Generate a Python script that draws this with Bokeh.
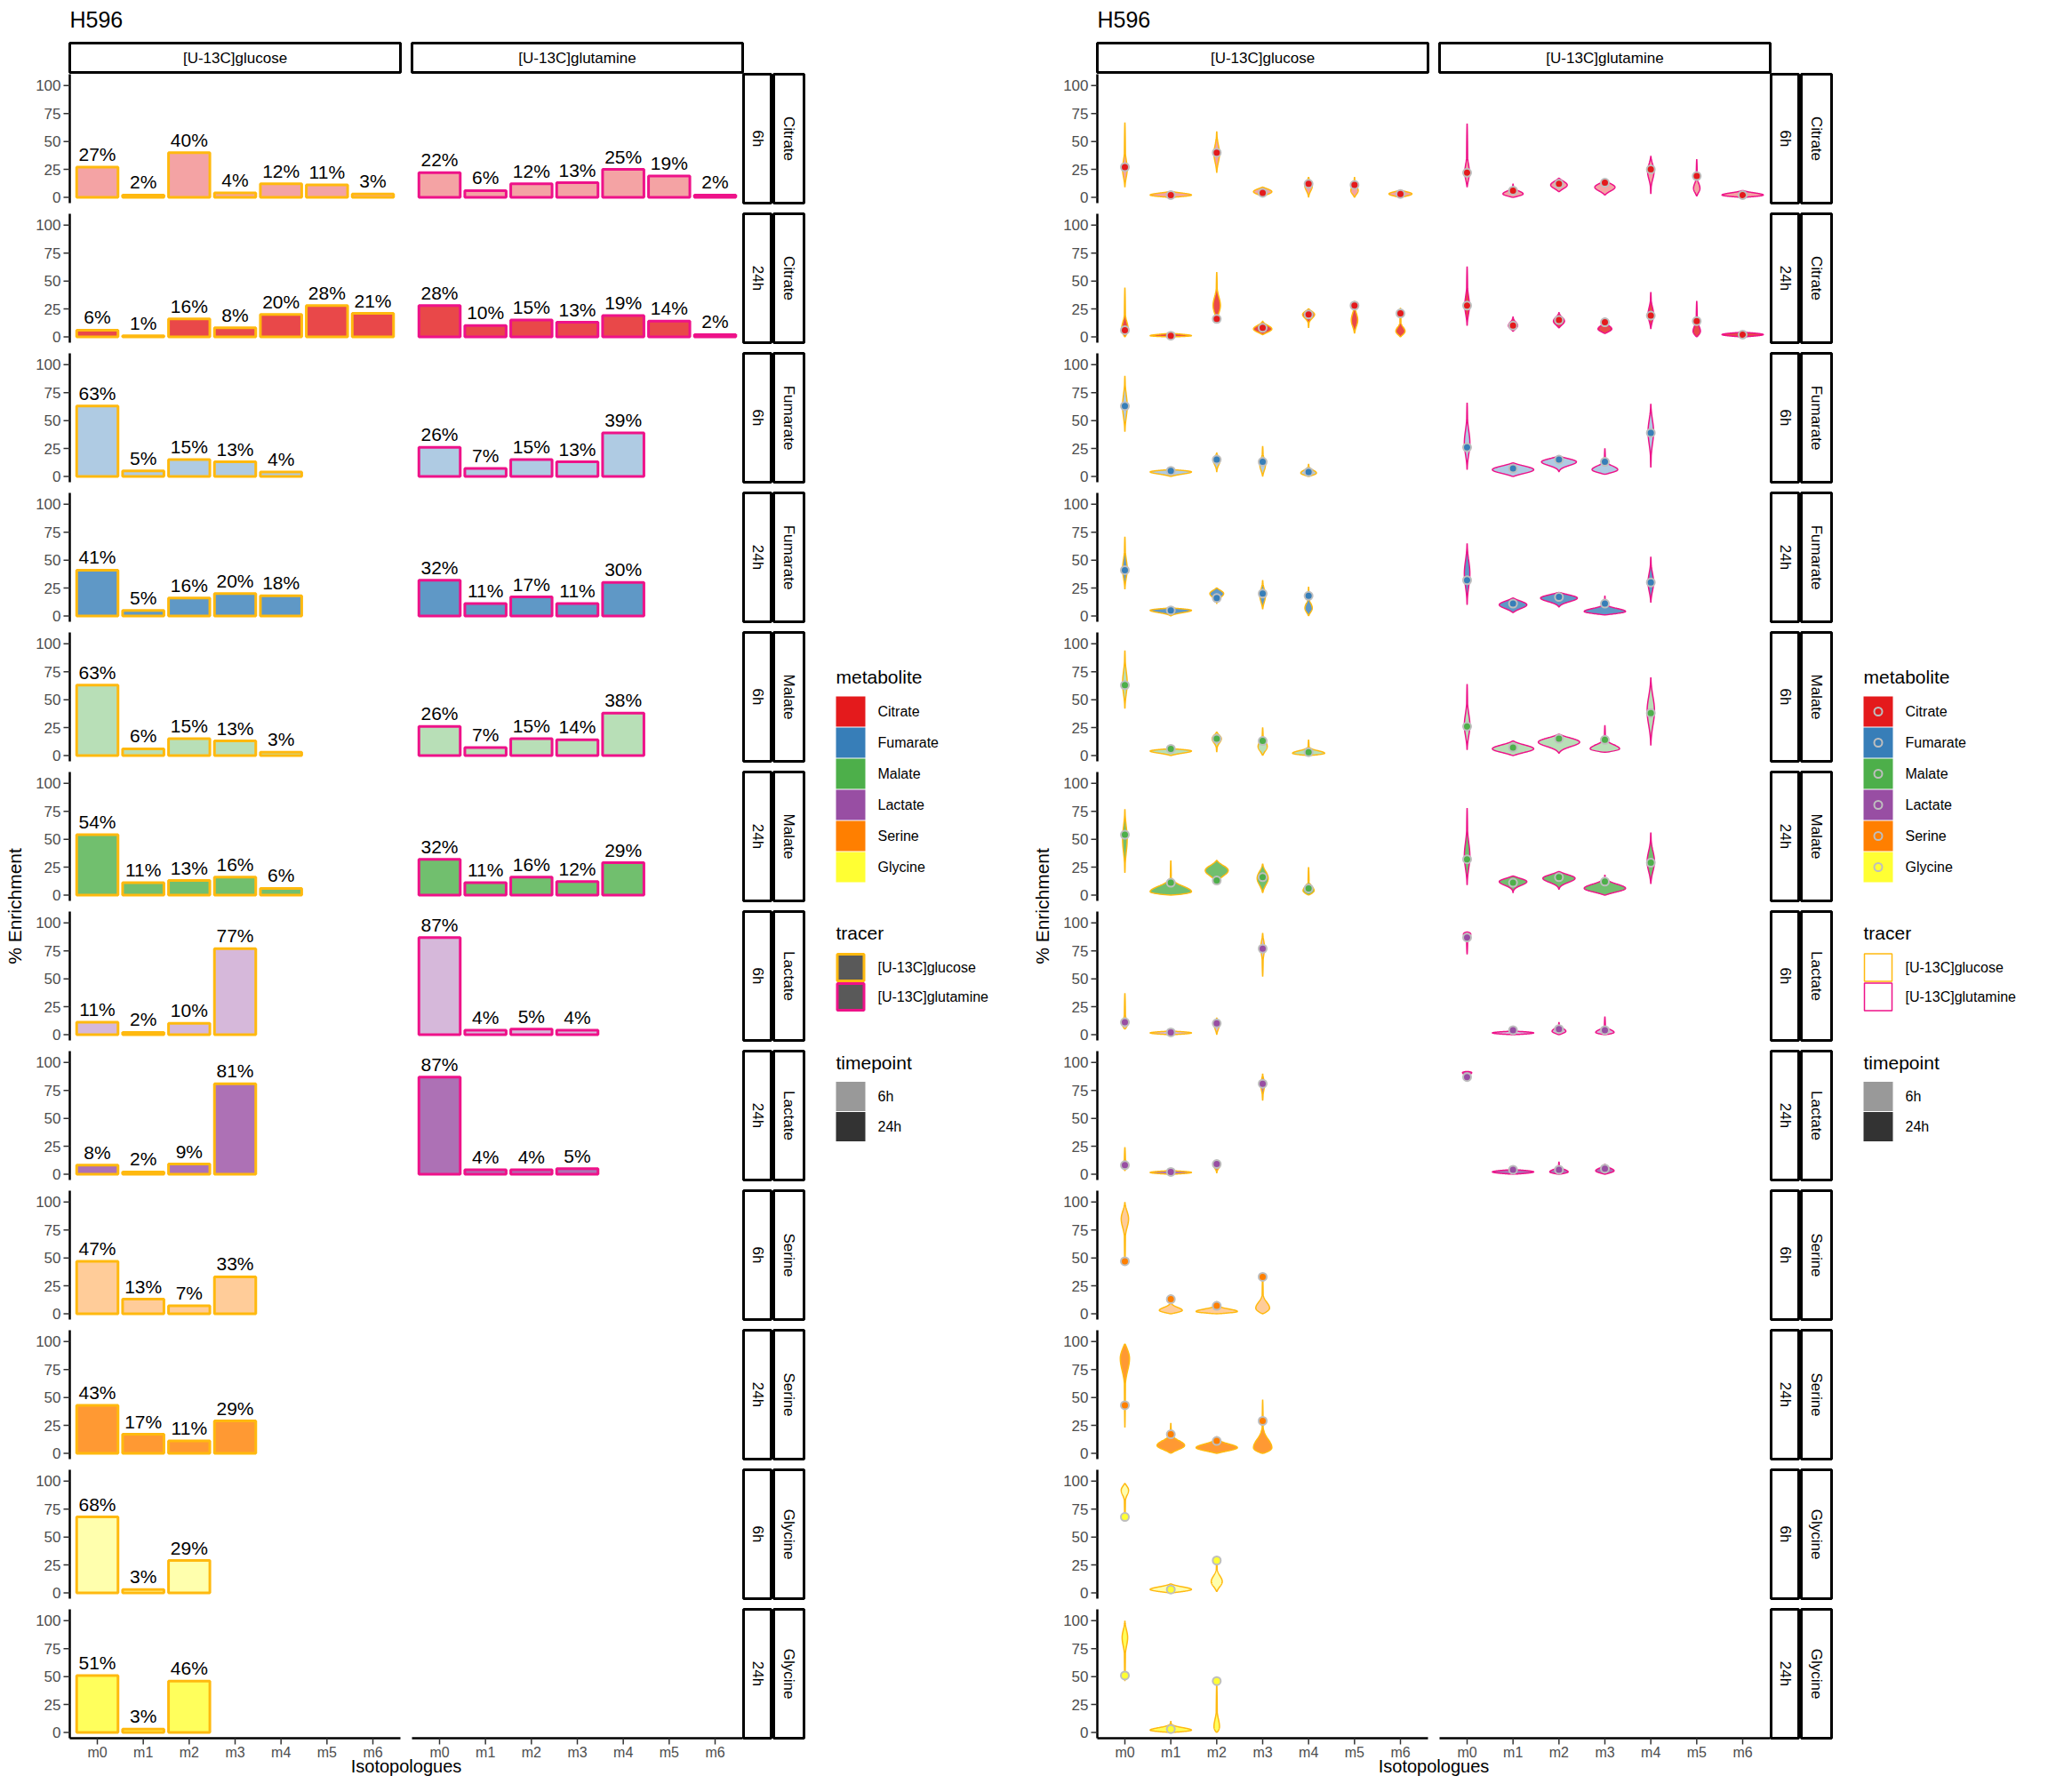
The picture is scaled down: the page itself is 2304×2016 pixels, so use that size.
import numpy as np
from bokeh.plotting import figure
from bokeh.layouts import row
from bokeh.models import Range1d
from bokeh.embed import file_html
from bokeh.resources import INLINE
from bokeh.core.properties import value

metabolites = ["Citrate", "Fumarate", "Malate", "Lactate", "Serine", "Glycine"]
timepoints = ["6h", "24h"]
tracers = ["[U-13C]glucose", "[U-13C]glutamine"]
isotopologues = ["m0", "m1", "m2", "m3", "m4", "m5", "m6"]
y_ticks = [0, 25, 50, 75, 100]
met_colors = ["#E41A1C", "#377EB8", "#4DAF4A", "#984EA3", "#FF7F00", "#FFFF33"]
tracer_colors = ["#FFB90F", "#EE1289"]
time_alpha = [0.4, 0.8]
time_key_colors = ["#999999", "#333333"]

# bar values (% enrichment) per facet row (metabolite x timepoint)
glc_bars = [[27, 2, 40, 4, 12, 11, 3], [6, 1, 16, 8, 20, 28, 21],
            [63, 5, 15, 13, 4], [41, 5, 16, 20, 18],
            [63, 6, 15, 13, 3], [54, 11, 13, 16, 6],
            [11, 2, 10, 77], [8, 2, 9, 81],
            [47, 13, 7, 33], [43, 17, 11, 29],
            [68, 3, 29], [51, 3, 46]]
gln_bars = [[22, 6, 12, 13, 25, 19, 2], [28, 10, 15, 13, 19, 14, 2],
            [26, 7, 15, 13, 39], [32, 11, 17, 11, 30],
            [26, 7, 15, 14, 38], [32, 11, 16, 12, 29],
            [87, 4, 5, 4], [87, 4, 4, 5],
            [], [], [], []]

# violin extents: low, high, widest point, max half-width (category units)
glc_lo = [[9, 0, 22, 1, 0, 0, 0], [0, 0, 13, 2, 8, 3, 0], [40, 0, 4, 0, 0], [24, 0, 11, 6, 0],
          [42, 0, 3, 0, 0], [20, 0, 9, 2, 0], [5, 0, 0, 52], [3, 0, 1, 66],
          [43, 0, 0, 0], [23, 0, 0, 0], [66, 0, 1], [46, 0, 0]]
glc_hi = [[67, 5, 59, 9, 18, 18, 6], [44, 3, 58, 14, 25, 32, 26], [90, 6, 21, 27, 11], [71, 7, 25, 32, 26],
          [94, 6, 21, 25, 14], [77, 31, 31, 28, 25], [37, 3, 15, 91], [24, 3, 12, 90],
          [100, 17, 11, 35], [98, 27, 15, 48], [98, 8, 30], [100, 10, 45]]
glc_pk = [[25, 2, 39, 5, 10, 6, 3], [7, 1, 28, 7, 20, 15, 5], [63, 4, 14, 10, 3], [42, 5, 20, 18, 7],
          [65, 4, 15, 8, 2], [50, 3, 22, 15, 4], [9, 1.5, 8, 78], [8, 1.5, 8, 80],
          [85, 3, 2, 5], [85, 7, 5, 5], [92, 3, 10], [85, 2, 5]]
glc_w = [[.05, .45, .06, .2, .08, .08, .25], [.07, .45, .08, .2, .13, .07, .1], [.05, .45, .07, .06, .17],
         [.05, .45, .15, .06, .08], [.05, .45, .1, .1, .35], [.05, .45, .25, .12, .12],
         [.05, .45, .05, .04], [.04, .45, .07, .04], [.08, .25, .45, .15], [.1, .3, .45, .2],
         [.08, .45, .12], [.06, .45, .06]]
gln_lo = [[9, 0, 5, 2, 3, 1, 0], [10, 5, 8, 3, 7, 0, 0], [6, 0, 4, 2, 8], [10, 3, 8, 1, 12],
          [5, 0, 2, 3, 9], [9, 2, 5, 0, 10], [72, 0, 0, 0], [83, 0, 0, 0], [], [], [], []]
gln_hi = [[66, 12, 17, 15, 37, 34, 6], [63, 18, 22, 17, 40, 32, 4], [66, 12, 18, 25, 65], [65, 16, 21, 18, 53],
          [64, 13, 19, 27, 70], [78, 17, 21, 18, 56], [92, 3, 11, 16], [92, 4, 11, 9], [], [], [], []]
gln_pk = [[22, 3, 11, 9, 23, 8, 2], [28, 10, 14, 7, 20, 5, 2], [30, 6, 13, 6, 40], [38, 10, 16, 4, 30],
          [27, 6, 12, 6, 40], [35, 12, 15, 6, 30], [90, 1.5, 3, 2], [91, 2, 2, 3], [], [], [], []]
gln_w = [[.05, .22, .18, .22, .07, .07, .45], [.05, .1, .12, .15, .06, .08, .45], [.06, .45, .38, .28, .06],
         [.06, .3, .4, .45, .06], [.06, .45, .45, .32, .08], [.06, .3, .35, .45, .08],
         [.08, .45, .15, .2], [.1, .45, .2, .2], [], [], [], []]

FONT = value("Liberation Sans")
H = 2000
COL_X0 = [78, 463]
PANEL_W = 372
UNIT = PANEL_W / 7.2
ROW_TOP0 = 83
ROW_PITCH = 157.0
ROW_H = 145.0
Y_LO, Y_HI = -5.25, 110.25
BOTTOM = ROW_TOP0 + 11 * ROW_PITCH + ROW_H
STRIP_T = 48
STRIP_B = 81
RS1 = (836, 867)
RS2 = (870, 904)


def cx(c, i):
    return COL_X0[c] + (i + 0.6) * UNIT


def yv(r, v):
    top = ROW_TOP0 + r * ROW_PITCH
    return top + (Y_HI - np.asarray(v, dtype=float)) / (Y_HI - Y_LO) * ROW_H


def text(p, x, y, t, size, align="left", base="middle", angle=0, color="black"):
    p.text(x=x, y=y, text=t, text_font=FONT, text_font_size=f"{size}px",
           text_align=align, text_baseline=base, angle=angle, text_color=color)


def violin_outline(xc, lo, hi, pk, w):
    pk = min(max(pk, lo + 0.05 * (hi - lo)), hi - 0.05 * (hi - lo))
    yy = np.linspace(lo, hi, 120)
    short = min(pk - lo, hi - pk)
    long_ = max(pk - lo, hi - pk)
    s = max(0.6 * short + 2, 0.25 * long_)
    tt = np.where(yy <= pk, (yy - lo) / (pk - lo), (hi - yy) / (hi - pk))
    hw = np.maximum(w * np.exp(-((yy - pk) / s) ** 2), 0.012) * np.sin(np.pi / 2 * np.clip(tt, 0, 1)) ** 0.6
    hw = hw * UNIT
    return np.concatenate([xc - hw, (xc + hw)[::-1]]), np.concatenate([yy, yy[::-1]])


def build(kind, W):
    p = figure(width=W, height=H, x_range=Range1d(0, W), y_range=Range1d(H, 0),
               min_border=0, toolbar_location=None, output_backend="svg",
               x_axis_location=None, y_axis_location=None)
    p.grid.visible = False
    p.outline_line_color = None
    p.background_fill_color = "white"

    text(p, [COL_X0[0]], [21], ["H596"], 25)
    for c in range(2):
        p.quad(left=[COL_X0[c]], right=[COL_X0[c] + PANEL_W], top=[STRIP_T], bottom=[STRIP_B],
               fill_color="white", line_color="black", line_width=3)
        text(p, [COL_X0[c] + PANEL_W / 2], [(STRIP_T + STRIP_B) / 2], [tracers[c]], 17, align="center")

    bars = [glc_bars, gln_bars]
    vlo = [glc_lo, gln_lo]
    vhi = [glc_hi, gln_hi]
    vpk = [glc_pk, gln_pk]
    vw = [glc_w, gln_w]

    for r in range(12):
        m = r // 2
        t = r % 2
        top = ROW_TOP0 + r * ROW_PITCH
        bot = top + ROW_H
        p.quad(left=[RS1[0], RS2[0]], right=[RS1[1], RS2[1]], top=[top, top], bottom=[bot, bot],
               fill_color="white", line_color="black", line_width=3)
        text(p, [(RS1[0] + RS1[1]) / 2, (RS2[0] + RS2[1]) / 2], [top + ROW_H / 2] * 2,
             [timepoints[t], metabolites[m]], 17, align="center", angle=-np.pi / 2)
        x0 = COL_X0[0]
        p.segment(x0=[x0], y0=[top], x1=[x0], y1=[bot], line_color="black", line_width=2.5)
        ty = yv(r, y_ticks)
        p.segment(x0=[x0 - 7] * 5, y0=ty, x1=[x0] * 5, y1=ty, line_color="#333333", line_width=1.5)
        text(p, [x0 - 10] * 5, ty, [str(v) for v in y_ticks], 17, align="right", color="#4D4D4D")

        for c in range(2):
            vals = bars[c][r]
            n = len(vals)
            if n == 0:
                continue
            xs = np.array([cx(c, i) for i in range(n)])
            if kind == "bar":
                p.quad(left=xs - 0.45 * UNIT, right=xs + 0.45 * UNIT, top=yv(r, vals),
                       bottom=[yv(r, 0)] * n, fill_color=met_colors[m], fill_alpha=time_alpha[t],
                       line_color=tracer_colors[c], line_width=3)
                text(p, xs, yv(r, vals) - 3, [f"{v}%" for v in vals], 21, align="center", base="bottom")
            else:
                pxs, pys = [], []
                for i in range(n):
                    px, py = violin_outline(xs[i], vlo[c][r][i], vhi[c][r][i], vpk[c][r][i], vw[c][r][i])
                    pxs.append(list(px))
                    pys.append(list(yv(r, py)))
                p.patches(xs=pxs, ys=pys, fill_color=met_colors[m], fill_alpha=time_alpha[t],
                          line_color=tracer_colors[c], line_width=1.5)
                p.scatter(x=xs, y=yv(r, vals), size=9, fill_color=met_colors[m],
                          line_color="#BEBEBE", line_width=2)

    for c in range(2):
        p.segment(x0=[COL_X0[c]], y0=[BOTTOM], x1=[COL_X0[c] + PANEL_W], y1=[BOTTOM],
                  line_color="black", line_width=2.5)
        xs = [cx(c, i) for i in range(7)]
        p.segment(x0=xs, y0=[BOTTOM] * 7, x1=xs, y1=[BOTTOM + 7] * 7, line_color="#333333", line_width=1.5)
        text(p, xs, [BOTTOM + 7] * 7, isotopologues, 16, align="center", base="top", color="#4D4D4D")
    text(p, [(COL_X0[0] + COL_X0[1] + PANEL_W) / 2], [1997], ["Isotopologues"], 20, align="center", base="bottom")
    text(p, [16], [(ROW_TOP0 + BOTTOM) / 2], ["% Enrichment"], 21, align="center", angle=np.pi / 2)

    KX, KS = 940, 33
    text(p, [KX], [761], ["metabolite"], 21)
    for i, mt in enumerate(metabolites):
        cy = 800 + 35 * i
        p.quad(left=[KX], right=[KX + KS], top=[cy - 17], bottom=[cy + 17],
               fill_color=met_colors[i], line_color=None)
        if kind == "violin":
            p.scatter(x=[KX + KS / 2], y=[cy], size=9, fill_color=met_colors[i],
                      line_color="#BEBEBE", line_width=2)
        text(p, [KX + 47], [cy], [mt], 16)
    text(p, [KX], [1049], ["tracer"], 21)
    for i, tr in enumerate(tracers):
        cy = 1088 + 33 * i
        if kind == "bar":
            p.quad(left=[KX + 1.5], right=[KX + KS - 1.5], top=[cy - 15], bottom=[cy + 15],
                   fill_color="#595959", line_color=tracer_colors[i], line_width=3)
        else:
            p.quad(left=[KX + 1], right=[KX + KS - 1], top=[cy - 15.5], bottom=[cy + 15.5],
                   fill_color="white", line_color=tracer_colors[i], line_width=1.5)
        text(p, [KX + 47], [cy], [tr], 16)
    text(p, [KX], [1195], ["timepoint"], 21)
    for i, tp in enumerate(timepoints):
        cy = 1233 + 34 * i
        p.quad(left=[KX], right=[KX + KS], top=[cy - 16.5], bottom=[cy + 16.5],
               fill_color=time_key_colors[i], line_color=None)
        text(p, [KX + 47], [cy], [tp], 16)
    return p


left = build("bar", 1156)
right = build("violin", 1132)
layout = row(left, right)
open("out.html", "w").write(file_html(layout, INLINE))
